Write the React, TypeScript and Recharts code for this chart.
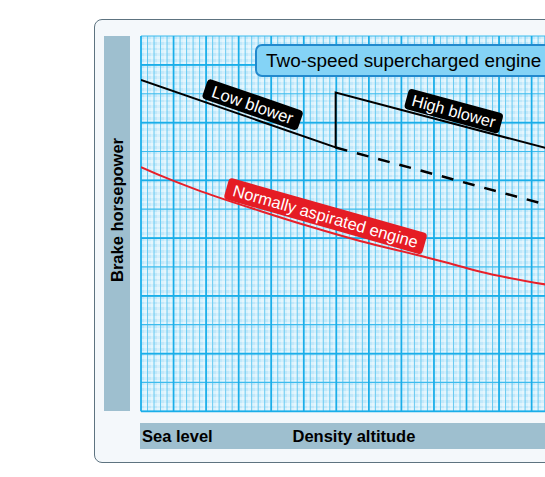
import React from "react";
import {
  CartesianGrid,
  Line,
  LineChart,
  ReferenceDot,
  XAxis,
  YAxis,
} from "recharts";

// black curve: low blower, jump, then high blower
const superchargedLine = [
  { x: 0, y: 5.74 },
  { x: 5.98, y: 4.57 },
  { x: 5.98, y: 5.52 },
  { x: 12.5, y: 4.55 },
];
// dashed continuation of the low blower
const lowBlowerDashed = [
  { x: 5.98, y: 4.57 },
  { x: 12.5, y: 3.57 },
];
const normallyAspirated = [
  { x: 0, y: 4.23 },
  { x: 0.7, y: 4.06 },
  { x: 1.7, y: 3.84 },
  { x: 3.66, y: 3.47 },
  { x: 5.19, y: 3.2 },
  { x: 6.73, y: 2.95 },
  { x: 8.67, y: 2.68 },
  { x: 9.5, y: 2.56 },
  { x: 10.4, y: 2.42 },
  { x: 12.5, y: 2.19 },
];

const tagTexts = ["Low blower", "High blower", "Normally aspirated engine"];
const tagX = [3.43, 9.61, 5.67];
const tagY = [5.31, 5.2, 3.38];

const X_MAX = 13.5;
const Y_MAX = 6.5;
const steps = (step: number, max: number) =>
  Array.from({ length: Math.floor(max / step + 1e-6) + 1 }, (_, i) =>
    Number((i * step).toFixed(3))
  );

const FONT = '"Liberation Sans", Arial, Helvetica, sans-serif';
const tagStyle = [
  { angle: 19, w: 101, h: 21, fill: "#000", size: 16.8 },
  { angle: 15.2, w: 98, h: 21, fill: "#000", size: 16.3 },
  { angle: 15.8, w: 206, h: 22, fill: "#e51c24", size: 16.5 },
];

const makeTag = (i: number) => (props: any) => {
  const s = tagStyle[i];
  return (
    <g transform={`translate(${props.cx},${props.cy}) rotate(${s.angle})`}>
      <rect x={-s.w / 2} y={-s.h / 2} width={s.w} height={s.h} rx={4} fill={s.fill} />
      <text
        x={0}
        y={0}
        dy="0.36em"
        textAnchor="middle"
        fill="#fff"
        fontSize={s.size}
        fontFamily={FONT}
      >
        {tagTexts[i]}
      </text>
    </g>
  );
};

const UX = 32.55;
const PLOT_W = X_MAX * UX;
const PLOT_H = 375.3;
const UY = PLOT_H / Y_MAX;
const PAD = 2;
// grid positions in svg pixels, from grid units
const gx = (step: number) => steps(step, X_MAX).map((v) => PAD + v * UX);
const gy = (step: number) => steps(step, Y_MAX).map((v) => PAD + PLOT_H - v * UY);

export default function App() {
  return (
    <div
      style={{
        position: "absolute",
        left: 0,
        top: 0,
        width: 545,
        height: 477,
        overflow: "hidden",
        background: "#fff",
        fontFamily: FONT,
      }}
    >
      <div
        style={{
          position: "absolute",
          left: 93.5,
          top: 18.5,
          width: 620,
          height: 442,
          border: "1px solid #5d7380",
          borderRadius: 8,
          background: "#f4f8fb",
        }}
      />
      <div
        style={{
          position: "absolute",
          left: 104,
          top: 36,
          width: 26,
          height: 375,
          background: "#9ebfcf",
        }}
      >
        <div
          style={{
            position: "absolute",
            left: 13,
            top: 174,
            transform: "translate(-50%,-50%) rotate(-90deg)",
            whiteSpace: "nowrap",
            fontWeight: "bold",
            fontSize: 16.5,
            color: "#000",
          }}
        >
          Brake horsepower
        </div>
      </div>
      <div
        style={{
          position: "absolute",
          left: 139.5,
          top: 423,
          width: 500,
          height: 26,
          lineHeight: "26px",
          background: "#9ebfcf",
          fontWeight: "bold",
          fontSize: 16.5,
          color: "#000",
        }}
      >
        <span style={{ position: "absolute", left: 2.5 }}>Sea level</span>
        <span style={{ position: "absolute", left: 153 }}>Density altitude</span>
      </div>
      <div style={{ position: "absolute", left: 141 - PAD, top: 36 - PAD }}>
        <LineChart
          width={PLOT_W + 2 * PAD}
          height={PLOT_H + 2 * PAD}
          margin={{ top: PAD, right: PAD, bottom: PAD, left: PAD }}
        >
          <XAxis type="number" dataKey="x" domain={[0, X_MAX]} hide allowDataOverflow />
          <YAxis type="number" dataKey="y" domain={[0, Y_MAX]} hide allowDataOverflow />

          <CartesianGrid
            fill="#d2effc"
            stroke="none"
            horizontalPoints={gy(0.05)}
            verticalPoints={gx(0.1)}
            horizontalFill={["#c2e8fa", "#dcf3fd"]}
            verticalFill={["rgba(255,255,255,0)", "rgba(255,255,255,0.3)"]}
          />
          <CartesianGrid
            horizontal={false}
            verticalPoints={gx(0.2)}
            stroke="#66caf1"
            strokeWidth={1}
          />
          <CartesianGrid
            vertical={false}
            horizontalPoints={gy(0.5)}
            stroke="#3dbcee"
            strokeWidth={1.2}
          />
          <CartesianGrid
            horizontalPoints={gy(1)}
            verticalPoints={gx(1)}
            stroke="#1aaee9"
            strokeWidth={1.7}
          />

          <Line
            data={normallyAspirated}
            dataKey="y"
            type="monotone"
            stroke="#e8202a"
            strokeWidth={2}
            dot={false}
            isAnimationActive={false}
          />
          <Line
            data={lowBlowerDashed}
            dataKey="y"
            type="linear"
            stroke="#000"
            strokeWidth={2.5}
            strokeDasharray="12 10"
            dot={false}
            isAnimationActive={false}
          />
          <Line
            data={superchargedLine}
            dataKey="y"
            type="linear"
            stroke="#000"
            strokeWidth={2}
            dot={false}
            isAnimationActive={false}
          />
          {tagTexts.map((t, i) => (
            <ReferenceDot
              key={t}
              x={tagX[i]}
              y={tagY[i]}
              ifOverflow="visible"
              shape={makeTag(i)}
            />
          ))}
        </LineChart>
      </div>
      <div
        style={{
          position: "absolute",
          left: 255,
          top: 43.5,
          width: 340,
          height: 33,
          boxSizing: "border-box",
          border: "2px solid #2289cd",
          borderRadius: 7,
          background: "#84d3f6",
          paddingLeft: 9,
          lineHeight: "29px",
          fontSize: 18.9,
          color: "#000",
          whiteSpace: "nowrap",
        }}
      >
        Two-speed supercharged engine
      </div>
    </div>
  );
}
